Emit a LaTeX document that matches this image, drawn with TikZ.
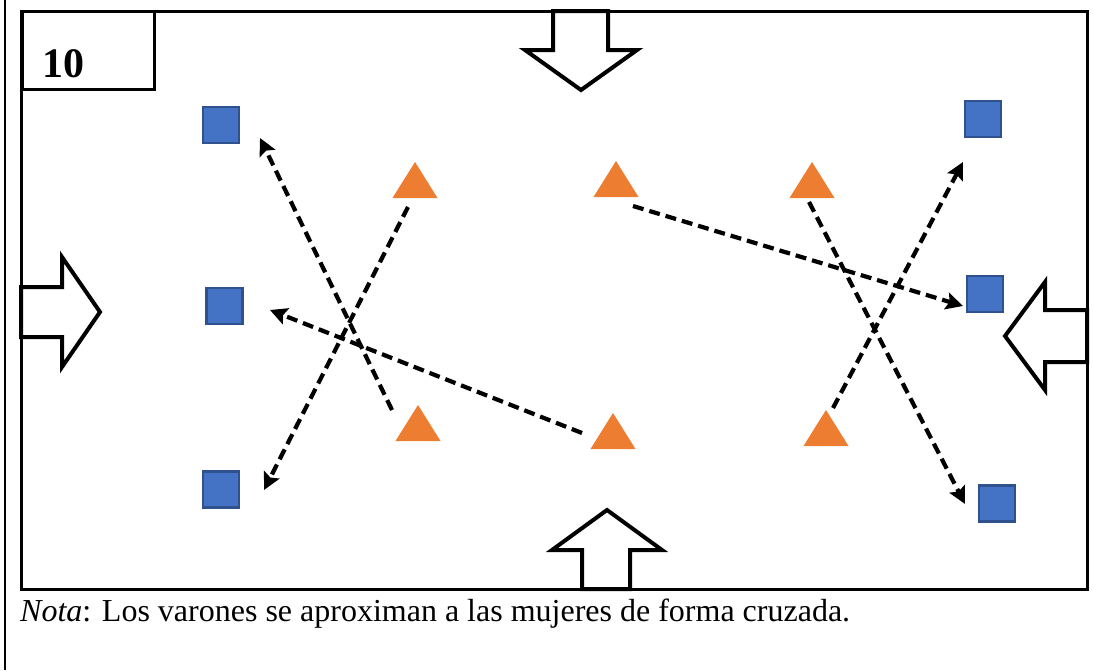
\documentclass[tikz,border=0pt]{standalone}
\usepackage{fontspec}
\setmainfont{Liberation Serif}
\usetikzlibrary{arrows.meta}
\definecolor{sqblue}{HTML}{4472C4}
\definecolor{sqedge}{HTML}{2F528F}
\definecolor{triorange}{HTML}{ED7D31}
\tikzset{
  sq/.style={draw=sqedge, fill=sqblue, line width=2.2pt, minimum size=36pt, inner sep=0pt},
  tri/.style={fill=triorange, draw=none},
  cross/.style={line width=4.2pt, dash pattern=on 11pt off 6pt, -{Stealth[length=17pt,width=17pt,inset=3pt]}},
  blockarrow/.style={draw=black, fill=white, line width=4pt, line join=miter},
  frame/.style={draw=black, line width=3pt},
}
\begin{document}
\begin{tikzpicture}[x=1pt,y=-1pt]
\useasboundingbox (0,0) rectangle (1094,670);
% outer left line
\draw[line width=2.5pt] (5,0) -- (5,670);
% main field
\draw[frame] (21,11) rectangle (1087,589);
% label box
\node[frame, fill=white, minimum width=132pt, minimum height=78pt, inner sep=0pt, anchor=north west] (label) at (20.5,9.5) {};
\node[anchor=base west, inner sep=0pt, font=\fontsize{42}{46}\selectfont\bfseries] (num) at (42,77) {10};
% block arrows
\draw[blockarrow] (553,11) -- (608,11) -- (608,50) -- (637,50) -- (581,90) -- (525,50) -- (553,50) -- cycle;
\draw[blockarrow] (21,287) -- (62,287) -- (62,257) -- (100,312) -- (62,367) -- (62,337) -- (21,337) -- cycle;
\draw[blockarrow] (1087,310) -- (1045,310) -- (1045,282) -- (1005,336) -- (1045,390) -- (1045,362) -- (1087,362) -- cycle;
\draw[blockarrow] (582,589) -- (582,550) -- (552,550) -- (607,510) -- (662,550) -- (630,550) -- (630,589) -- cycle;
% squares
\node[sq] (s1) at (221,125) {};
\node[sq] (s2) at (224.5,306) {};
\node[sq] (s3) at (221,489.5) {};
\node[sq] (s4) at (983,119) {};
\node[sq] (s5) at (985,294) {};
\node[sq] (s6) at (997,503.5) {};
% triangles
\coordinate (t1) at (415,180);
\coordinate (t2) at (616,179);
\coordinate (t3) at (812,180);
\coordinate (t4) at (418,423);
\coordinate (t5) at (613,431);
\coordinate (t6) at (826,428);
\foreach \t in {t1,t2,t3,t4,t5,t6}{
  \fill[tri] ([shift={(-22.5,18)}]\t) -- ([shift={(0,-18)}]\t) -- ([shift={(22.5,18)}]\t) -- cycle;
}
% connector ends
\coordinate (a1s) at (392,410); \coordinate (a1e) at (260,138);
\coordinate (a2s) at (408,207); \coordinate (a2e) at (264,490);
\coordinate (a3s) at (582,433); \coordinate (a3e) at (270,310);
\coordinate (a4s) at (633,206); \coordinate (a4e) at (963,306);
\coordinate (a5s) at (809,202); \coordinate (a5e) at (965,504);
\coordinate (a6s) at (833,408); \coordinate (a6e) at (963,162);
\draw[cross] (a1s) -- (a1e);
\draw[cross] (a2s) -- (a2e);
\draw[cross] (a3s) -- (a3e);
\draw[cross] (a4s) -- (a4e);
\draw[cross] (a5s) -- (a5e);
\draw[cross] (a6s) -- (a6e);
% caption
\node[anchor=base west, inner sep=0pt, font=\fontsize{32}{38}\selectfont] (nota) at (20,621) {\textit{Nota}: Los varones se aproximan a las mujeres de forma cruzada.};
\end{tikzpicture}
\end{document}
